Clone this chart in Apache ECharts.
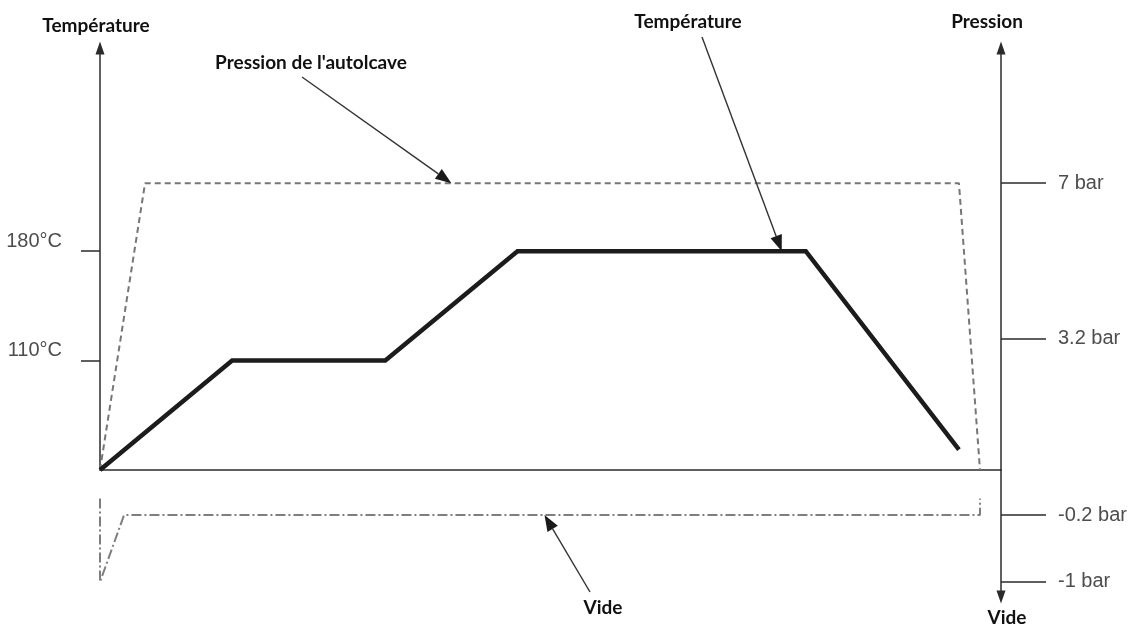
<!DOCTYPE html>
<html><head><meta charset="utf-8">
<script src="https://cdn.jsdelivr.net/npm/echarts@6/dist/echarts.min.js"></script>
<style>html,body{margin:0;padding:0;background:#fff}#c{width:1136px;height:627px}</style>
</head><body><div id="c"></div>
<script>
// Schematic time axis (arbitrary units)
const tempTime = [0, 44, 95, 139, 235, 286];
const tempValues = [40, 110, 110, 180, 180, 53];          // °C
const pressTime = [0, 15, 286, 293];
const pressValues = [0, 7, 7, 0];                         // bar
const vacTime = [0, 0, 8, 293, 293];
const vacValues = [0, -1, -0.2, -0.2, 0];                 // bar
const tempTicks = [110, 180];
const pressTicks = [3.2, 7];
const vacTicks = [-1, -0.2];
const axisTitles = ['Température', 'Pression', 'Vide'];
const noteTexts = ["Pression de l'autolcave", 'Température', 'Vide'];
const noteTargets = [[117, 7], [227, 180], [148, -0.2]];   // points on the curves the arrows point to

const zip = (a, b) => a.map((v, i) => [v, b[i]]);
const AX = '#2b2b2b';
const TICKFONT = {color: '#4d4d4d', fontFamily: 'Liberation Sans', fontSize: 20};
const chart = echarts.init(document.getElementById('c'), null, {renderer: 'canvas'});

chart.setOption({
  animation: false,
  backgroundColor: '#fff',
  grid: [
    {left: 100, right: 135, top: 48, bottom: 157},
    {left: 100, right: 135, top: 470, bottom: 30}
  ],
  xAxis: [
    {gridIndex: 0, type: 'value', min: 0, max: 300,
     axisLine: {show: true, onZero: false, lineStyle: {color: AX, width: 1.5}},
     axisTick: {show: false}, axisLabel: {show: false}, splitLine: {show: false}},
    {gridIndex: 1, type: 'value', min: 0, max: 300, show: false}
  ],
  yAxis: [
    {gridIndex: 0, type: 'value', position: 'left', min: 40, max: 310,
     axisLine: {show: true, onZero: false, symbol: ['none', 'triangle'], symbolSize: [9, 13], lineStyle: {color: AX, width: 1.5}},
     axisTick: {show: true, length: 19, customValues: tempTicks, lineStyle: {color: AX, width: 1.5}},
     axisLabel: Object.assign({customValues: tempTicks, margin: 38, verticalAlign: 'bottom',
       formatter: v => v + '°C'}, TICKFONT),
     splitLine: {show: false}},
    {gridIndex: 0, type: 'value', position: 'right', min: 0, max: 10.3,
     axisLine: {show: true, onZero: false, symbol: ['none', 'triangle'], symbolSize: [9, 13], lineStyle: {color: AX, width: 1.5}},
     axisTick: {show: true, length: 45, customValues: pressTicks, lineStyle: {color: AX, width: 1.5}},
     axisLabel: Object.assign({customValues: pressTicks, margin: 57, formatter: v => v + ' bar'}, TICKFONT),
     splitLine: {show: false}},
    {gridIndex: 1, type: 'value', position: 'right', min: -1.18, max: 0.34,
     axisLine: {show: true, onZero: false, symbol: ['triangle', 'none'], symbolSize: [9, 13], lineStyle: {color: AX, width: 1.5}},
     axisTick: {show: true, length: 45, customValues: vacTicks, lineStyle: {color: AX, width: 1.5}},
     axisLabel: Object.assign({customValues: vacTicks, margin: 57, formatter: v => v + ' bar'}, TICKFONT),
     splitLine: {show: false}}
  ],
  series: [
    {name: 'Température', type: 'line', xAxisIndex: 0, yAxisIndex: 0, data: zip(tempTime, tempValues),
     symbol: 'none', z: 5, lineStyle: {color: '#1c1c1c', width: 4.5, join: 'miter', cap: 'butt'}},
    {name: "Pression de l'autolcave", type: 'line', xAxisIndex: 0, yAxisIndex: 1, data: zip(pressTime, pressValues),
     symbol: 'none', z: 3, lineStyle: {color: '#767676', width: 2, type: [6, 4]}},
    {name: 'Vide', type: 'line', xAxisIndex: 1, yAxisIndex: 2, data: zip(vacTime, vacValues),
     symbol: 'none', z: 3, lineStyle: {color: '#7e7e7e', width: 2, type: [10, 3, 2, 3]}}
  ]
});

// Annotation layout (pixels): label centres and arrow tail points
const BOLD = 'bold 19px Lato';
const titlePos = [[96, 26], [987, 22], [1007, 618]];
const notePos = [[311, 63], [688, 22], [603, 608]];
const tailPos = [[302, 77], [702, 37], [590, 592]];

const g = [];
axisTitles.forEach((t, i) => g.push({type: 'text', x: titlePos[i][0], y: titlePos[i][1], z: 20,
  style: {text: t, font: BOLD, fill: '#111', align: 'center', verticalAlign: 'middle'}}));
noteTexts.forEach((t, i) => {
  g.push({type: 'text', x: notePos[i][0], y: notePos[i][1], z: 20,
    style: {text: t, font: BOLD, fill: '#111', align: 'center', verticalAlign: 'middle'}});
  const tip = chart.convertToPixel({seriesIndex: i === 0 ? 1 : (i === 1 ? 0 : 2)}, noteTargets[i]);
  const tail = tailPos[i];
  const dx = tip[0] - tail[0], dy = tip[1] - tail[1], len = Math.hypot(dx, dy);
  const ux = dx / len, uy = dy / len, L = 16, W = 6;
  const bx = tip[0] - L * ux, by = tip[1] - L * uy;
  g.push({type: 'line', z: 20, shape: {x1: tail[0], y1: tail[1], x2: bx, y2: by},
    style: {stroke: '#333', lineWidth: 1.4}});
  g.push({type: 'polygon', z: 20, shape: {points: [[tip[0], tip[1]], [bx - W * uy, by + W * ux], [bx + W * uy, by - W * ux]]},
    style: {fill: '#1a1a1a'}});
});
chart.setOption({graphic: g});
</script></body></html>
